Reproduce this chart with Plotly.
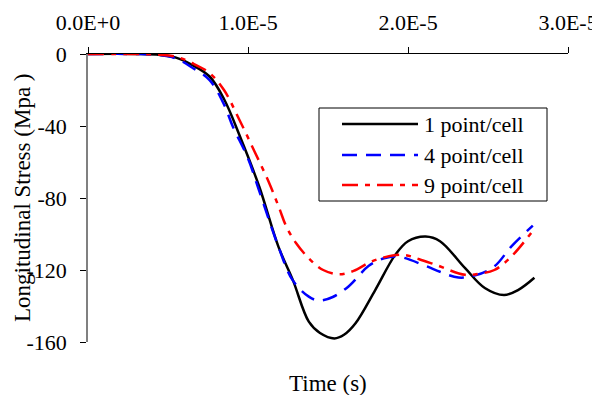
import plotly.graph_objects as go

# Time (s)
t_1pt = [0, 0.3e-5, 0.45e-5, 0.55e-5, 0.65e-5, 0.76e-5, 0.85e-5, 0.95e-5, 1.07e-5, 1.19e-5,
         1.28e-5, 1.38e-5, 1.45e-5, 1.54e-5, 1.60e-5, 1.672e-5, 1.796e-5, 1.92e-5, 2.00e-5,
         2.11e-5, 2.20e-5, 2.357e-5, 2.48e-5, 2.60e-5, 2.69e-5, 2.79e-5]
s_1pt = [0, 0, -0.5, -2, -6, -12.5, -25, -45.8, -73.6, -107,
         -125.5, -148.7, -155, -158, -156, -149.6, -131, -111.6, -104,
         -101.4, -104, -119, -130, -133.9, -131, -124.3]

t_4pt = [0, 0.3e-5, 0.45e-5, 0.55e-5, 0.65e-5, 0.76e-5, 0.85e-5, 0.905e-5, 1.0e-5, 1.07e-5,
         1.19e-5, 1.278e-5, 1.38e-5, 1.444e-5, 1.53e-5, 1.63e-5, 1.755e-5, 1.85e-5, 1.94e-5,
         2.11e-5, 2.2e-5, 2.315e-5, 2.42e-5, 2.54e-5, 2.645e-5, 2.78e-5]
s_4pt = [0, 0, -0.6, -2.5, -7.5, -14.5, -28, -40.3, -58, -76,
         -107, -125.5, -134.8, -137, -135, -129, -117.7, -113.5, -112.6,
         -117.7, -121, -124.2, -123, -118, -107, -95.3]

t_9pt = [0, 0.3e-5, 0.45e-5, 0.55e-5, 0.65e-5, 0.76e-5, 0.85e-5, 0.946e-5, 1.04e-5, 1.133e-5,
         1.195e-5, 1.24e-5, 1.30e-5, 1.38e-5, 1.47e-5, 1.568e-5, 1.66e-5, 1.755e-5, 1.85e-5,
         1.973e-5, 2.07e-5, 2.17e-5, 2.357e-5, 2.45e-5, 2.54e-5, 2.645e-5, 2.788e-5]
s_9pt = [0, 0, -0.4, -1.5, -5, -10.6, -20, -36.5, -54, -71.8,
         -85.6, -96, -105, -113.5, -120, -122.4, -120.5, -116, -113,
         -111.6, -114, -117, -122.7, -122, -120, -112.6, -97.3]

series_names = ["1 point/cell", "4 point/cell", "9 point/cell"]
x_tickvals = [0, 1.0e-5, 2.0e-5, 3.0e-5]
x_ticktext = ["0.0E+0", "1.0E-5", "2.0E-5", "3.0E-5"]
y_tickvals = [0, -40, -80, -120, -160]
y_ticktext = ["0", "-40", "-80", "-120", "-160"]

FONT = "Liberation Serif, Times New Roman, serif"
FS = 22

# layout in figure pixels (page adds an 8px body margin)
W, H = 600, 387
ML, MT = 80, 46
PW, PH = 480, 288
MR, MB = W - ML - PW, H - MT - PH


def px(x):
    return (x - ML) / PW


def py(y):
    return (MT + PH - y) / PH


styles = [
    dict(color="black", width=2.5),
    dict(color="#0000ff", width=2.5, dash="15px,9px"),
    dict(color="#ff0000", width=2.5, dash="16px,7px,5px,7px"),
]

fig = go.Figure()
for t, s, name, st in zip([t_1pt, t_4pt, t_9pt], [s_1pt, s_4pt, s_9pt], series_names, styles):
    fig.add_trace(go.Scatter(x=t, y=s, mode="lines", name=name,
                             line=dict(shape="spline", **st), showlegend=False))

# hand-built legend box (matches the reference's long line samples)
shapes = [dict(type="rect", xref="paper", yref="paper",
               x0=px(311), x1=px(539), y0=py(193), y1=py(100),
               line=dict(color="black", width=1), fillcolor="white", layer="above")]
annotations = []
row_y = [116, 147, 177]
for name, st, ry in zip(series_names, styles, row_y):
    shapes.append(dict(type="line", xref="paper", yref="paper",
                       x0=px(334), x1=px(410), y0=py(ry), y1=py(ry),
                       line=st, layer="above"))
    annotations.append(dict(text=name, x=px(414), y=py(ry), xref="paper", yref="paper",
                            xanchor="left", yanchor="middle", showarrow=False,
                            font=dict(family=FONT, size=FS)))

annotations += [
    dict(text="Time (s)", x=0.5, y=py(375), xref="paper", yref="paper",
         xanchor="center", yanchor="middle", showarrow=False,
         font=dict(family=FONT, size=23)),
    dict(text="Longitudinal Stress (Mpa )", x=px(14), y=0.5, xref="paper", yref="paper",
         xanchor="center", yanchor="middle", showarrow=False, textangle=-90,
         font=dict(family=FONT, size=23)),
]

fig.update_layout(
    width=W, height=H,
    margin=dict(l=ML, r=MR, t=MT, b=MB),
    paper_bgcolor="white", plot_bgcolor="white",
    font=dict(family=FONT, size=FS, color="black"),
    showlegend=False,
    xaxis=dict(range=[0, 3.0e-5], side="top", tickvals=x_tickvals, ticktext=x_ticktext,
               showgrid=False, zeroline=False, showline=True, linecolor="black", linewidth=1,
               ticks="outside", ticklen=6, tickcolor="black", automargin=False,
               ticklabelstandoff=8,
               tickfont=dict(family=FONT, size=FS)),
    yaxis=dict(range=[-160, 0], tickvals=y_tickvals, ticktext=y_ticktext,
               showgrid=False, zeroline=False,
               showline=True, linecolor="#808080", linewidth=1.5,
               ticks="outside", ticklen=6, tickcolor="black", automargin=False,
               ticklabelstandoff=9,
               tickfont=dict(family=FONT, size=FS)),
    shapes=shapes,
    annotations=annotations,
)

fig.write_html("out.html")
